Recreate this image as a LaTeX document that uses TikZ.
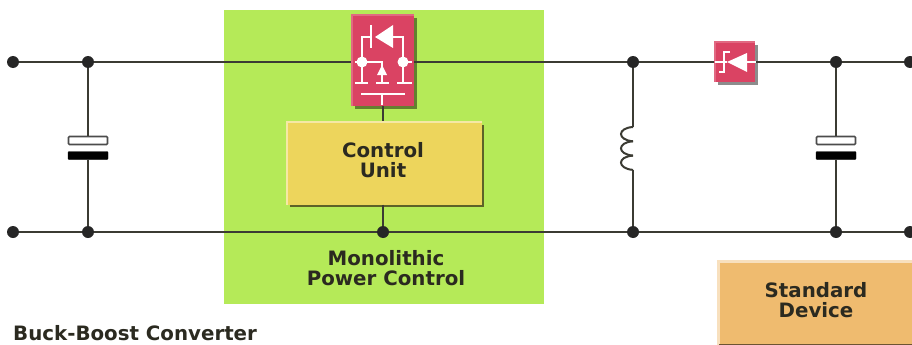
\documentclass[tikz,border=0pt]{standalone}
\usepackage{fontspec}
\usepackage{tikz}
\usetikzlibrary{shadows}
\setmainfont{DejaVu Sans}
\definecolor{railcol}{HTML}{3B3B33}
\definecolor{inkcol}{HTML}{2B2A20}
\definecolor{greencol}{HTML}{B5EA58}
\definecolor{redcol}{HTML}{DA4363}
\definecolor{yellowcol}{HTML}{EDD55C}
\definecolor{orangecol}{HTML}{EFBB6F}
\tikzset{
  rail/.style={draw=railcol,line width=1.7pt},
  dot/.style={circle,fill=black!85,inner sep=0pt,minimum size=12pt},
  label/.style={text=inkcol,font=\fontsize{19.8}{20}\selectfont\bfseries,align=center,inner sep=0pt},
  redbox/.style={fill=redcol,inner sep=0pt,drop shadow={shadow xshift=3pt,shadow yshift=-3pt,fill=black,opacity=0.45}},
  unitbox/.style={inner sep=0pt},
  icon/.style={draw=white,line width=1.5pt},
  platewhite/.style={draw=black!70,fill=white,line width=1.7pt,rounded corners=1pt,inner sep=0pt,minimum width=39pt,minimum height=8pt},
  plateblack/.style={draw=black,fill=black,rounded corners=1pt,inner sep=0pt,minimum width=40pt,minimum height=8pt}
}
\begin{document}
\begin{tikzpicture}[x=1pt,y=-1pt]
\useasboundingbox (0,0) rectangle (912,345);
% green area
\node[fill=greencol,inner sep=0pt,minimum width=320pt,minimum height=294pt] (area) at (384,157) {};
% rail dots
\foreach \n/\x in {a/13,b/88,c/633,d/836,e/910} {
  \node[dot] (top\n) at (\x,62) {};
  \node[dot] (bot\n) at (\x,232) {};
}
\node[dot] (botm) at (383,232) {};
% boxes
\node[redbox,minimum width=62pt,minimum height=90pt] (mos) at (383,60.5) {};
\node[redbox,minimum width=40pt,minimum height=39pt] (schottky) at (735,62) {};
\node[unitbox,fill=yellowcol,minimum width=194pt,minimum height=82pt,
  drop shadow={shadow xshift=2pt,shadow yshift=-2pt,fill=black!70!yellowcol,opacity=0.8}] (ctrl) at (384.5,163.5) {};
\node[unitbox,fill=orangecol,minimum width=193pt,minimum height=83pt] (std) at (815.5,303.5) {};
% rails
\draw[rail] (topa) -- (topb) -- (topb -| mos.west);
\draw[rail] (topb -| mos.east) -- (topc) -- (schottky.west);
\draw[rail] (schottky.east) -- (topd) -- (tope);
\draw[rail] (bota) -- (botb) -- (botm) -- (botc) -- (botd) -- (bote);
\draw[rail] (mos.south) -- (mos.south |- ctrl.north);
\draw[rail] (botm |- ctrl.south) -- (botm);
% capacitors
\node[platewhite] (capa) at (88,140.5) {};
\node[plateblack] (capb) at (88,155.5) {};
\node[platewhite] (capc) at (836,140.5) {};
\node[plateblack] (capd) at (836,155.5) {};
\draw[rail] (topb) -- (capa.north);
\draw[rail] (capb.south) -- (botb);
\draw[rail] (topd) -- (capc.north);
\draw[rail] (capd.south) -- (botd);
% inductor
\coordinate (lt) at (633,127);
\coordinate (lb) at (633,170);
\draw[rail] (topc) -- (lt);
\draw[rail] (lb) -- (botc);
\foreach \y in {127,141.3,155.6}
  \draw[rail,line width=2pt] (633,\y) .. controls (617,\y+1) and (617,\y+13) .. (633,\y+14.3);
% box edges
\draw[draw=redcol!80!white,line width=2pt] (mos.south west) -- (mos.north west) -- (mos.north east);
\draw[draw=redcol!80!white,line width=2pt] (schottky.south west) -- (schottky.north west) -- (schottky.north east);
\draw[draw=yellowcol!55!white,line width=2pt] (ctrl.south west) -- (ctrl.north west) -- (ctrl.north east);
\draw[draw=orangecol!45!white,line width=3pt] (std.south west) -- (std.north west) -- (std.north east);
\draw[draw=orangecol!45!black,line width=3pt] (std.south west) -- (std.south east);
% mosfet symbol
\fill[white] (362,62) circle (5.5) (403,62) circle (5.5);
\draw[icon] (362,62) -- (362,37) -- (371,37);
\draw[icon] (393,37) -- (403,37) -- (403,62);
\draw[icon] (371,25) -- (371,48);
\fill[white] (375,37) -- (393,25) -- (393,48) -- cycle;
\draw[icon] (355,62) -- (362,62) (403,62) -- (412,62);
\draw[icon] (362,62) -- (382,62) -- (382,83);
\fill[white] (382,65) -- (387,75) -- (377,75) -- cycle;
\draw[icon] (362,62) -- (362,83);
\draw[icon] (403,62) -- (403,83);
\draw[icon] (355,83) -- (368,83) (376,83) -- (389,83) (397,83) -- (412,83);
\draw[icon] (361,94) -- (405,94) (382,94) -- (382,105);
% schottky symbol
\fill[white] (727,62) -- (747,53) -- (747,72) -- cycle;
\draw[icon] (714.5,62) -- (727,62) (747,62) -- (755.5,62);
\draw[icon,line width=1.2pt] (730,52) -- (724,52) -- (724,72) -- (719,72);
% labels
\node[label] (ctrltext) at (383,160) {Control\\Unit};
\node[label] (stdtext) at (816,300.5) {Standard\\Device};
\node[label] (mpc) at (386,268) {Monolithic\\Power Control};
\node[label,anchor=west] (title) at (13,333) {Buck-Boost Converter};
\end{tikzpicture}
\end{document}
